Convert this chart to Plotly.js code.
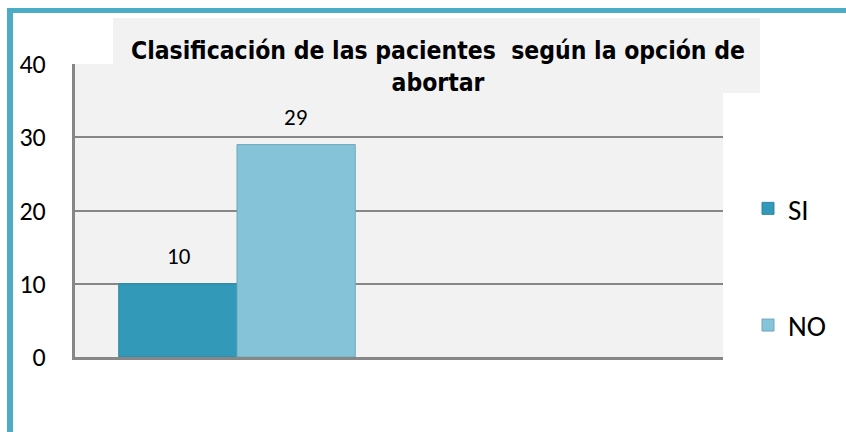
<!DOCTYPE html>
<html>
<head>
<meta charset="utf-8">
<script src="https://cdn.plot.ly/plotly-3.0.1.min.js"></script>
<style>html,body{margin:0;padding:0;background:#fff;}#chart{width:846px;height:432px;}</style>
</head>
<body>
<div id="chart"></div>
<script>
// Data
var categories = ["Opción de abortar"];
var seriesNames = ["SI", "NO"];
var siValues = [10];
var noValues = [29];
var yTicks = [0, 10, 20, 30, 40];
var titleText = "Clasificación de las pacientes  según la opción de<br>abortar";

var W = 846, H = 432;
var M = {l: 75, r: 123, t: 64, b: 75};
var PW = W - M.l - M.r, PH = H - M.t - M.b;
function px(x){ return (x - M.l) / PW; }
function py(y){ return (H - M.b - y) / PH; }

var numFont = "Carlito, 'Liberation Sans Narrow', 'Liberation Sans', sans-serif";
var titleFont = "'Liberation Sans Narrow', 'DejaVu Sans Condensed', 'Liberation Sans', sans-serif";

var traces = [
  {type: "bar", name: seriesNames[0], x: [0], y: siValues,
   marker: {color: "#3299b8", line: {color: "#2b87a3", width: 1}},
   legendgroup: "a", hoverinfo: "y"},
  {type: "bar", name: seriesNames[1], x: [0], y: noValues,
   marker: {color: "#84c3d8", line: {color: "#6fa9bd", width: 1}},
   legendgroup: "b", hoverinfo: "y"}
];

var annotations = [];
[siValues, noValues].forEach(function(vals, i){
  vals.forEach(function(v, j){
    annotations.push({x: j, y: v, xref: "x", yref: "y", text: String(v),
      showarrow: false, xshift: i === 0 ? -58 : 58, yshift: 28,
      font: {family: numFont, size: 23, color: "#000"}});
  });
});

var layout = {
  width: W, height: H,
  margin: M,
  paper_bgcolor: "#ffffff",
  plot_bgcolor: "#f2f2f2",
  barmode: "group",
  bargap: 0.27,
  bargroupgap: 0,
  title: {text: titleText, x: 438 / W, xanchor: "center", y: 1 - 59/H, yanchor: "middle",
          font: {family: titleFont, size: 24.5, color: "#000", weight: "bold"}},
  xaxis: {range: [-0.5, 1.5], showticklabels: false, ticks: "", showgrid: false, zeroline: false,
          showline: true, linecolor: "#878787", linewidth: 3, fixedrange: true},
  yaxis: {range: [0, 40], tickvals: yTicks, ticks: "", showgrid: true, gridcolor: "#878787", gridwidth: 2,
          zeroline: false, showline: true, linecolor: "#878787", linewidth: 3,
          ticklabelstandoff: 21,
          tickfont: {family: numFont, size: 26, color: "#000"}, fixedrange: true},
  legend: {x: px(748), xanchor: "left", y: py(183), yanchor: "top", bgcolor: "rgba(0,0,0,0)",
           tracegroupgap: 76, font: {family: numFont, size: 29, color: "#000"}, itemwidth: 30},
  showlegend: true,
  annotations: annotations,
  shapes: [
    {type: "rect", xref: "paper", yref: "paper", x0: px(113), x1: px(760), y0: py(93), y1: py(18),
     fillcolor: "#f2f2f2", line: {width: 0}, layer: "above"},
    {type: "rect", xref: "paper", yref: "paper", x0: px(7), x1: px(846), y0: py(13), y1: py(8),
     fillcolor: "#4bacc6", line: {width: 0}, layer: "above"},
    {type: "rect", xref: "paper", yref: "paper", x0: px(7), x1: px(13), y0: py(432), y1: py(8),
     fillcolor: "#4bacc6", line: {width: 0}, layer: "above"}
  ]
};

Plotly.newPlot("chart", traces, layout, {displayModeBar: false, staticPlot: true});
</script>
</body>
</html>
